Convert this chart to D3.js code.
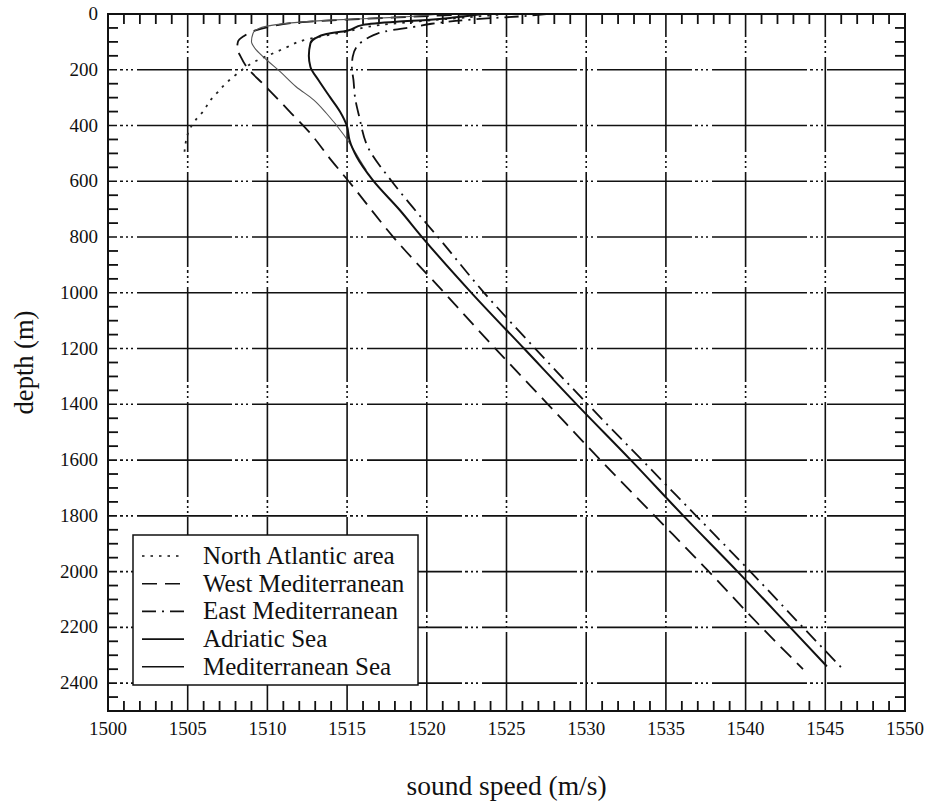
<!DOCTYPE html>
<html>
<head>
<meta charset="utf-8">
<script src="https://cdn.jsdelivr.net/npm/d3@7/dist/d3.min.js"></script>
<style>
  body { margin: 0; background: #fff; }
  svg text { font-family: "Liberation Serif", "DejaVu Serif", serif; fill: #111; }
</style>
</head>
<body>
<div id="chart"></div>
<script>
// legend names (order as in the legend)
var seriesNames = ["North Atlantic area", "West Mediterranean", "East Mediterranean", "Adriatic Sea", "Mediterranean Sea"];

// North Atlantic area
var naDepth = [0, 10, 22, 40, 63, 81, 99, 117, 135, 171, 219, 246, 279, 311, 347, 380, 416, 454, 494];
var naSpeed = [1525, 1523, 1520.4, 1517, 1515, 1513.3, 1512.0, 1511.3, 1510.6, 1509.2, 1508.0, 1507.45, 1506.9, 1506.4, 1506.0, 1505.5, 1505.1, 1504.9, 1504.8];

// West Mediterranean
var wmDepth = [0, 10, 20, 30, 45, 60, 80, 100, 125, 150, 190, 255, 356, 422, 524, 600, 800, 1000, 1200, 1400, 1600, 1800, 2000, 2200, 2350];
var wmSpeed = [1523, 1519, 1515, 1512, 1510.2, 1509.2, 1508.5, 1508.15, 1508.1, 1508.3, 1508.7, 1509.8, 1511.5, 1512.6, 1514.0, 1515.1, 1517.9, 1521.1, 1524.3, 1527.6, 1530.9, 1534.3, 1537.7, 1541.0, 1543.6];

// East Mediterranean
var emDepth = [0, 8, 15, 25, 35, 47, 57, 70, 86, 111, 154, 190, 237, 300, 366, 477, 600, 692, 800, 1000, 1200, 1400, 1600, 1800, 2000, 2200, 2350];
var emSpeed = [1527.5, 1526, 1524, 1521.8, 1520.3, 1519.1, 1517.9, 1516.9, 1516.3, 1515.7, 1515.35, 1515.3, 1515.4, 1515.5, 1515.75, 1516.3, 1517.8, 1519.1, 1520.7, 1523.6, 1526.8, 1530.1, 1533.5, 1536.9, 1540.3, 1543.6, 1546.1];

// Adriatic Sea
var adDepth = [0, 12, 22, 32, 40, 51, 69, 99, 129, 165, 207, 261, 308, 356, 434, 476, 524, 560];
var adSpeed = [1521, 1518, 1513.9, 1511.5, 1510.35, 1509.5, 1509.1, 1509.0, 1509.3, 1509.96, 1510.8, 1511.8, 1512.9, 1513.7, 1514.8, 1515.3, 1515.8, 1516.2];

// Mediterranean Sea
var msDepth = [0, 12, 21, 28, 39, 60, 72, 87, 105, 150, 190, 237, 300, 350, 404, 452, 512, 595, 703, 800, 1000, 1200, 1400, 1600, 1800, 2000, 2200, 2340];
var msSpeed = [1523.5, 1521.8, 1520.2, 1518.1, 1516.0, 1515.0, 1513.7, 1513.0, 1512.7, 1512.6, 1512.7, 1513.2, 1513.95, 1514.55, 1515.0, 1515.15, 1515.6, 1516.6, 1518.3, 1519.7, 1522.8, 1526.1, 1529.4, 1532.8, 1536.1, 1539.5, 1542.8, 1545.1];

var xTicks = [1500, 1505, 1510, 1515, 1520, 1525, 1530, 1535, 1540, 1545, 1550];
var yTicks = [0, 200, 400, 600, 800, 1000, 1200, 1400, 1600, 1800, 2000, 2200, 2400];

function init()
{
    var w = 926;
    var h = 803;
    var left = 108, right = 905, top = 14, bottom = 711;
    var font = "'Liberation Serif', 'DejaVu Serif', serif";

    var x = d3.scaleLinear().domain([1500, 1550]).range([left, right]);
    var y = d3.scaleLinear().domain([0, 2500]).range([top, bottom]);

    var svg = d3.select("#chart")
                .append("svg")
                .attr("width", w)
                .attr("height", h);

    var gridDash = "95,3,3,3,2,3,2,4";

    // vertical grid
    svg.selectAll(".vgrid")
        .data(xTicks.slice(1, -1))
        .enter()
        .append("line")
        .attr("x1", function(d) { return x(d); })
        .attr("x2", function(d) { return x(d); })
        .attr("y1", top)
        .attr("y2", bottom)
        .attr("stroke", "#111")
        .attr("stroke-width", 1.6)
        .attr("stroke-dasharray", gridDash)
        .attr("stroke-dashoffset", 72);

    // horizontal grid
    svg.selectAll(".hgrid")
        .data(yTicks.slice(1))
        .enter()
        .append("line")
        .attr("x1", left)
        .attr("x2", right)
        .attr("y1", function(d) { return y(d); })
        .attr("y2", function(d) { return y(d); })
        .attr("stroke", "#111")
        .attr("stroke-width", 1.6)
        .attr("stroke-dasharray", gridDash)
        .attr("stroke-dashoffset", 86);

    // minor ticks
    var xMinor = x.ticks(50).filter(function(d) { return d % 5 !== 0; });
    var yMinor = y.ticks(50).filter(function(d) { return d % 200 !== 0; });
    var tl = 10;

    [bottom, top].forEach(function(edge) {
        var dir = edge === bottom ? -1 : 1;
        svg.append("g").selectAll("line")
            .data(xMinor)
            .enter()
            .append("line")
            .attr("x1", function(d) { return x(d); })
            .attr("x2", function(d) { return x(d); })
            .attr("y1", edge)
            .attr("y2", edge + dir * tl)
            .attr("stroke", "#111")
            .attr("stroke-width", 1.8);
    });
    [left, right].forEach(function(edge) {
        var dir = edge === left ? 1 : -1;
        svg.append("g").selectAll("line")
            .data(yMinor)
            .enter()
            .append("line")
            .attr("x1", edge)
            .attr("x2", edge + dir * tl)
            .attr("y1", function(d) { return y(d); })
            .attr("y2", function(d) { return y(d); })
            .attr("stroke", "#111")
            .attr("stroke-width", 1.8);
    });

    // curves
    var series = [
        { name: seriesNames[0], depth: naDepth, speed: naSpeed, dash: "2.5,6", width: 1.8, color: "#222" },
        { name: seriesNames[1], depth: wmDepth, speed: wmSpeed, dash: "15,8", width: 1.8, color: "#111" },
        { name: seriesNames[2], depth: emDepth, speed: emSpeed, dash: "14,6,2,6", width: 1.8, color: "#111" },
        { name: seriesNames[3], depth: adDepth, speed: adSpeed, dash: null, width: 1.1, color: "#555" },
        { name: seriesNames[4], depth: msDepth, speed: msSpeed, dash: null, width: 2, color: "#111" }
    ];

    var line = d3.line()
        .x(function(d) { return x(d[1]); })
        .y(function(d) { return y(d[0]); })
        .curve(d3.curveMonotoneY);

    svg.append("g").selectAll("path")
        .data(series)
        .enter()
        .append("path")
        .attr("d", function(s) { return line(d3.zip(s.depth, s.speed)); })
        .attr("fill", "none")
        .attr("stroke", function(s) { return s.color; })
        .attr("stroke-width", function(s) { return s.width; })
        .attr("stroke-dasharray", function(s) { return s.dash; });

    // frame
    svg.append("rect")
        .attr("x", left)
        .attr("y", top)
        .attr("width", right - left)
        .attr("height", bottom - top)
        .attr("fill", "none")
        .attr("stroke", "#111")
        .attr("stroke-width", 2);

    // tick labels
    svg.selectAll(".xl")
        .data(xTicks)
        .enter()
        .append("text")
        .attr("x", function(d) { return x(d); })
        .attr("y", 735)
        .attr("text-anchor", "middle")
        .attr("font-family", font)
        .attr("font-size", 19)
        .text(function(d) { return d; });

    svg.selectAll(".yl")
        .data(yTicks)
        .enter()
        .append("text")
        .attr("x", 98)
        .attr("y", function(d) { return y(d) + 6; })
        .attr("text-anchor", "end")
        .attr("font-family", font)
        .attr("font-size", 19)
        .text(function(d) { return d; });

    // axis titles
    svg.append("text")
        .attr("x", (left + right) / 2)
        .attr("y", 795)
        .attr("text-anchor", "middle")
        .attr("font-family", font)
        .attr("font-size", 27.5)
        .text("sound speed (m/s)");

    svg.append("text")
        .attr("transform", "translate(33," + ((top + bottom) / 2) + ") rotate(-90)")
        .attr("text-anchor", "middle")
        .attr("font-family", font)
        .attr("font-size", 26.5)
        .text("depth (m)");

    // legend
    var lg = svg.append("g");
    lg.append("rect")
        .attr("x", 133)
        .attr("y", 535)
        .attr("width", 285)
        .attr("height", 150)
        .attr("fill", "#fff")
        .attr("stroke", "#111")
        .attr("stroke-width", 1.5);

    var rows = lg.selectAll(".row")
        .data(series)
        .enter()
        .append("g")
        .attr("transform", function(d, i) { return "translate(0," + (564 + i * 27.7) + ")"; });

    rows.append("line")
        .attr("x1", 142)
        .attr("x2", 184)
        .attr("y1", -8)
        .attr("y2", -8)
        .attr("stroke", "#111")
        .attr("stroke-width", 1.6)
        .attr("stroke-dasharray", function(s) { return s.dash; });

    rows.append("text")
        .attr("x", 203)
        .attr("y", 0)
        .attr("font-family", font)
        .attr("font-size", 25)
        .text(function(s) { return s.name; });
}
window.onload = init;
</script>
</body>
</html>
